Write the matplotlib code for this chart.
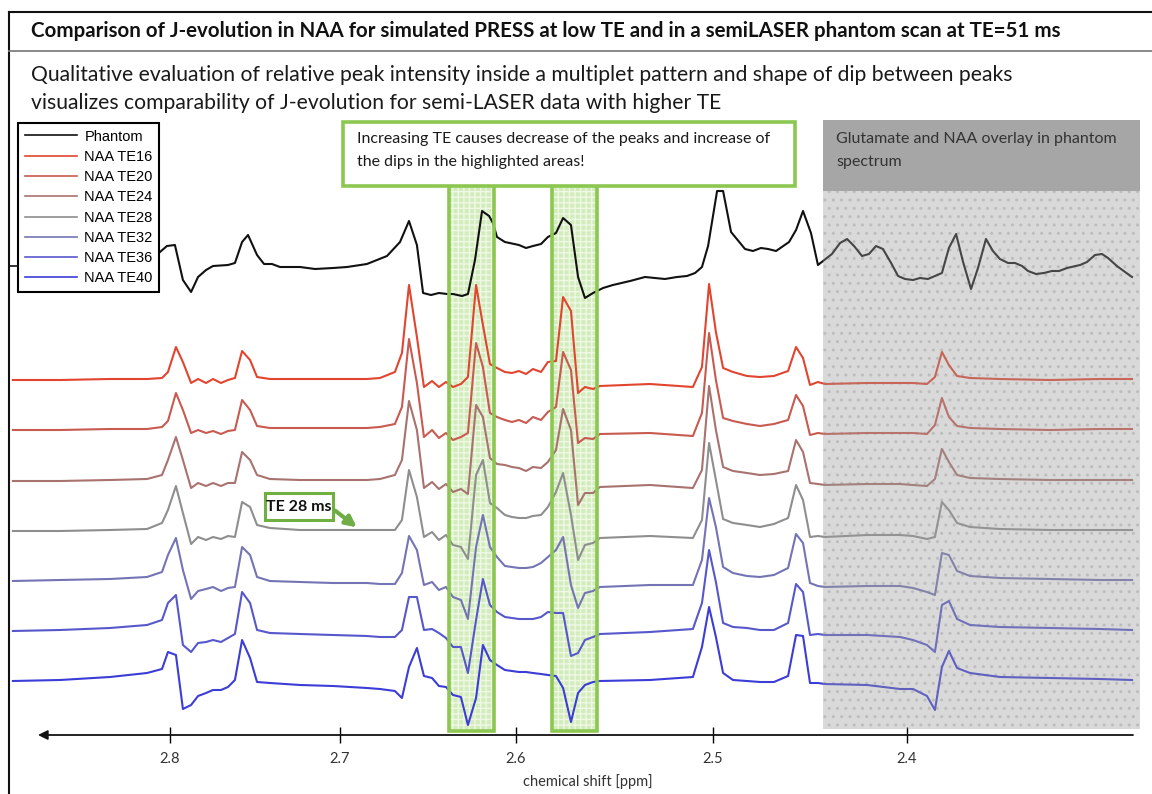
import numpy as np
import matplotlib
matplotlib.use("Agg")
import matplotlib.pyplot as plt
from matplotlib.patches import Rectangle, FancyArrowPatch
from matplotlib.lines import Line2D

# ---------------- data ----------------
series_labels = ["Phantom", "NAA TE16", "NAA TE20", "NAA TE24", "NAA TE28",
                 "NAA TE32", "NAA TE36", "NAA TE40"]
tick_values = [2.8, 2.7, 2.6, 2.5, 2.4]
tick_labels = ["2.8", "2.7", "2.6", "2.5", "2.4"]

ppm_phantom = [2.8059, 2.8018, 2.7971, 2.7924, 2.7876, 2.7835, 2.7788, 2.7747, 2.7659, 2.7618,
               2.7576, 2.7541, 2.7488, 2.7447, 2.7400, 2.7353, 2.7235, 2.7147, 2.7041, 2.6960,
               2.6847, 2.6733, 2.6659, 2.6608, 2.6563, 2.6528, 2.6483, 2.6438, 2.6392, 2.6358,
               2.6307, 2.6273, 2.6233, 2.6193, 2.6153, 2.6131, 2.6108, 2.6063, 2.5985, 2.5949,
               2.5914, 2.5873, 2.5838, 2.5797, 2.5761, 2.5721, 2.5685, 2.5650, 2.5609, 2.5558,
               2.5508, 2.5421, 2.5345, 2.5244, 2.5183, 2.5132, 2.5091, 2.5056, 2.5025, 2.4979,
               2.4948, 2.4907, 2.4835, 2.4794, 2.4753, 2.4716, 2.4675, 2.4608, 2.4572, 2.4536,
               2.4495, 2.4459, 2.4387, 2.4345, 2.4309, 2.4273, 2.4232, 2.4196, 2.4160, 2.4124,
               2.4082, 2.4046, 2.4010, 2.3969, 2.3933, 2.3892, 2.3856, 2.3820, 2.3784, 2.3747,
               2.3711, 2.3670, 2.3634, 2.3593, 2.3557, 2.3521, 2.3479, 2.3443, 2.3407, 2.3376,
               2.3335, 2.3294, 2.3253, 2.3216, 2.3175, 2.3108, 2.3072, 2.3031, 2.2995, 2.2964,
               2.2918, 2.2876, 2.2840]
phantom = [13, 19, 20, -15, -27, -12, -5, -1, 0, 2,
           23, 30, 10, 1, 1, -2, -2, -4, -3, -2,
           1, 9, 23, 44, 20, -28, -30, -28, -29, -29,
           -31, -29, 5, 54, 49, 42, 28, 23, 20, 17,
           19, 21, 28, 32, 47, 40, -12, -33, -28, -23,
           -20, -16, -12, -14, -12, -11, -8, -2, 19, 74,
           74, 33, 16, 14, 17, 16, 14, 23, 35, 54,
           32, 0, 11, 22, 26, 19, 9, 11, 19, 16,
           2, -11, -14, -15, -13, -14, -11, -8, 17, 31,
           3, -24, -3, 26, 14, 6, 2, 2, -1, -6,
           -9, -8, -6, -6, -3, 0, 3, 10, 11, 7,
           -1, -7, -12]

ppm_sim = [2.8924, 2.8647, 2.8353, 2.8135, 2.8047, 2.8012, 2.7965, 2.7924, 2.7876, 2.7835,
           2.7788, 2.7747, 2.7700, 2.7659, 2.7618, 2.7576, 2.7529, 2.7488, 2.7412, 2.7235,
           2.7041, 2.6847, 2.6773, 2.6688, 2.6648, 2.6608, 2.6563, 2.6523, 2.6477, 2.6438,
           2.6398, 2.6358, 2.6313, 2.6273, 2.6227, 2.6188, 2.6148, 2.6108, 2.6063, 2.6023,
           2.5985, 2.5949, 2.5914, 2.5873, 2.5838, 2.5797, 2.5761, 2.5721, 2.5685, 2.5650,
           2.5609, 2.5574, 2.5320, 2.5102, 2.5056, 2.5020, 2.4985, 2.4948, 2.4897, 2.4825,
           2.4758, 2.4686, 2.4613, 2.4572, 2.4536, 2.4500, 2.4459, 2.4423, 2.4206, 2.4036,
           2.3969, 2.3897, 2.3856, 2.3820, 2.3784, 2.3742, 2.3675, 2.3521, 2.3263, 2.3005,
           2.2840]

naa_te16 = [0, 0, 1, 1, 2, 8, 33, 18, -3, 1,
            -3, 1, -3, 0, 2, 29, 20, 3, 1, 1,
            1, 1, 2, 8, 27, 95, 43, -7, -1, -7,
            -2, -7, -4, 3, 95, 55, 16, 12, 8, 7,
            9, 6, 11, 8, 18, 19, 83, 69, -13, -7,
            -9, -6, -4, -7, 13, 96, 48, 12, 8, 4,
            3, 4, 9, 33, 22, -5, -2, -4, -3, -3,
            -3, -4, 3, 28, 15, 4, 2, 1, 0, 1,
            1]
naa_te20 = [0, 0, 1, 1, 3, 9, 37, 20, -3, 0,
            -3, -1, -4, -1, 0, 30, 20, 4, 2, 2,
            2, 2, 3, 6, 23, 91, 47, -7, 0, -8,
            -3, -10, -7, -3, 87, 63, 17, 13, 10, 8,
            10, 7, 13, 10, 18, 23, 78, 60, -13, -8,
            -9, -4, -3, -6, 17, 97, 50, 12, 9, 6,
            4, 6, 10, 35, 24, -5, -3, -4, -3, -3,
            -3, -4, 5, 32, 13, 4, 2, 1, 0, 1,
            1]
naa_te24 = [0, 0, 1, 2, 6, 21, 44, 21, -7, -2,
            -5, -2, -5, -2, -2, 29, 21, 6, 2, 1,
            1, 1, 2, 6, 21, 80, 51, -7, -1, -8,
            -3, -11, -8, -13, 76, 64, 23, 17, 16, 14,
            13, 10, 14, 13, 19, 31, 72, 51, -24, -12,
            -12, -6, -4, -7, 11, 95, 51, 14, 10, 8,
            6, 7, 10, 41, 29, -2, -3, -4, -3, -3,
            -4, -5, 2, 32, 19, 6, 3, 2, 1, 1,
            1]
naa_te28 = [0, 0, 1, 2, 8, 21, 45, 18, -13, -6,
            -9, -6, -8, -5, -6, 29, 24, 6, 3, 1,
            1, 1, 1, 1, 11, 61, 34, -6, -1, -9,
            -4, -14, -16, -28, 56, 71, 28, 23, 16, 14,
            13, 13, 15, 16, 24, 39, 58, 16, -29, -14,
            -12, -7, -5, -7, 11, 88, 51, 12, 8, 6,
            4, 7, 13, 46, 31, -6, -5, -6, -4, -4,
            -5, -8, -6, 29, 21, 8, 4, 2, 1, 1,
            1]
naa_te32 = [0, 1, 2, 4, 9, 26, 43, 11, -18, -10,
            -8, -6, -10, -7, -6, 34, 26, 4, 0, -1,
            -2, -2, -3, -3, 8, 45, 31, -4, -1, -9,
            -6, -16, -19, -38, 34, 66, 34, 24, 15, 14,
            13, 13, 14, 18, 24, 31, 44, -4, -27, -12,
            -10, -6, -4, -4, 21, 83, 54, 14, 8, 5,
            4, 6, 13, 47, 38, -2, -5, -6, -5, -5,
            -7, -11, -14, 28, 26, 10, 5, 3, 2, 1,
            1]
naa_te36 = [0, 1, 3, 6, 11, 28, 36, -14, -21, -12,
            -11, -9, -11, -7, -3, 39, 28, 1, -2, -3,
            -4, -5, -6, -6, 1, 34, 34, 1, 2, -2,
            -7, -16, -16, -42, 11, 52, 26, 19, 14, 13,
            12, 12, 12, 14, 19, 18, 18, -25, -22, -9,
            -6, -3, -1, 2, 28, 81, 49, 8, 4, 3,
            1, 1, 8, 47, 39, -4, -3, -4, -4, -6,
            -9, -14, -21, 26, 30, 12, 6, 4, 3, 2,
            1]
naa_te40 = [0, 1, 4, 8, 12, 29, 26, -28, -24, -15,
            -12, -9, -9, -6, 1, 41, 23, -1, -2, -4,
            -5, -7, -8, -10, -17, 14, 33, 5, 3, -5,
            -6, -14, -16, -44, -17, 36, 21, 16, 11, 10,
            9, 9, 8, 7, 6, 5, -7, -41, -12, -4,
            -1, 0, 1, 4, 34, 74, 44, 8, 1, 0,
            -1, -1, 5, 46, 45, -2, -2, -3, -4, -8,
            -8, -15, -29, 14, 30, 13, 8, 4, 3, 2,
            1]

# ---------------- style / layout ----------------
W, H = 1152, 794
colors = ["#111111", "#e2452f", "#c85a50", "#a8726e", "#8e8e8e",
          "#7474b4", "#5757cc", "#3c3cd6"]
offsets = [416, 301, 251, 200, 150, 100, 50, 0]
green = "#8cc751"

def fx(p):
    return p / W

def fy(p):
    return 1 - p / H

def frect(x0, y0, x1, y1):
    return (fx(x0), fy(y1)), fx(x1) - fx(x0), fy(y0) - fy(y1)

# calibration of the (slightly non-uniform) ppm axis of the original composite
cal_ppm = np.array([2.2, 2.3, 2.4, 2.5, 2.6, 2.7, 2.8, 2.9])
cal_px = np.array([1295, 1101, 907, 713, 516, 340, 170, 0], dtype=float)

def fwd(x):
    return np.interp(np.asarray(x, dtype=float), cal_ppm, -cal_px)

def inv(u):
    return np.interp(np.asarray(u, dtype=float), -cal_px, cal_ppm)

fig = plt.figure(figsize=(W / 100, H / 100), dpi=100)
ax = fig.add_axes([fx(10), fy(735), fx(1140) - fx(10), fy(120) - fy(735)])
ax.set_xscale("function", functions=(fwd, inv))
ax.set_xlim(float(inv(-10)), float(inv(-1140)))
ax.set_ylim(-54, 561)
for s in ax.spines.values():
    s.set_visible(False)
ax.set_yticks([])
ax.set_xticks(tick_values, tick_labels)
ax.tick_params(axis="x", direction="inout", length=11, width=1, pad=7,
               labelsize=10.5, labelcolor="#333333")
for lab in ax.get_xticklabels():
    lab.set_family("Lato")
tick_colors = ["#6a2a2a", "#6a2a2a", "#2a2a55", "#2a2a55", "#2a2a55"]
for t, c in zip(ax.xaxis.get_major_ticks(), tick_colors):
    t.tick1line.set_color(c)
ax.xaxis.set_minor_locator(matplotlib.ticker.NullLocator())

# highlighted columns (fill under the lines)
for x0, x1 in [(449, 494), (552, 597)]:
    xy, w, h = frect(x0, 184, x1, 731)
    ax.add_patch(Rectangle(xy, w, h, transform=fig.transFigure, facecolor="#d3ecbc",
                           edgecolor="none", zorder=0.2))
    ax.add_patch(Rectangle(xy, w, h, transform=fig.transFigure, facecolor="none",
                           edgecolor="#eef8e5", lw=0, hatch="+++", zorder=0.3))

# dotted texture of the gray region (under the lines)
xy, w, h = frect(823, 191, 1140, 729)
ax.add_patch(Rectangle(xy, w, h, transform=fig.transFigure, facecolor="none",
                       edgecolor="#d2d2d2", lw=0, hatch="..", zorder=0.3))

# spectra
ax.plot(ppm_phantom, np.array(phantom) + offsets[0], color=colors[0], lw=1.5,
        label=series_labels[0], zorder=2)
sims = [naa_te16, naa_te20, naa_te24, naa_te28, naa_te32, naa_te36, naa_te40]
for i, vals in enumerate(sims, start=1):
    ax.plot(ppm_sim, np.array(vals) + offsets[i], color=colors[i], lw=1.5,
            label=series_labels[i], zorder=2)

# x axis arrow
ax.annotate("", xy=((38 - 10) / 1130, 0), xytext=((1133 - 10) / 1130, 0),
            xycoords="axes fraction", textcoords="axes fraction",
            arrowprops=dict(arrowstyle="-|>", color="#111111", lw=1.3,
                            mutation_scale=14, shrinkA=0, shrinkB=0),
            annotation_clip=False)

leg = ax.legend(loc="upper left", bbox_to_anchor=(fx(18), fy(123)),
                bbox_transform=fig.transFigure, borderaxespad=0, fancybox=False,
                edgecolor="black", framealpha=1,
                prop={"family": "Liberation Sans", "size": 10.5},
                handlelength=3.6, labelspacing=0.43, borderpad=0.45,
                handletextpad=0.5)
leg.get_frame().set_linewidth(1.5)
for ln in leg.get_lines():
    ln.set_linewidth(1.2)
leg.set_zorder(10)

# gray overlay region
xy, w, h = frect(823, 191, 1140, 729)
fig.add_artist(Rectangle(xy, w, h, transform=fig.transFigure, facecolor="#9c9c9c",
                         alpha=0.38, edgecolor="none", zorder=5))
xy, w, h = frect(823, 120, 1140, 191)
fig.add_artist(Rectangle(xy, w, h, transform=fig.transFigure, facecolor="#a6a6a6",
                         edgecolor="none", zorder=5.2))
fig.text(fx(836), fy(139), "Glutamate and NAA overlay in phantom", family="Lato",
         fontsize=11.5, color="#333333", va="center", ha="left", zorder=6)
fig.text(fx(836), fy(162), "spectrum", family="Lato",
         fontsize=11.5, color="#333333", va="center", ha="left", zorder=6)

# green column borders
for x0, x1 in [(449, 494), (552, 597)]:
    xy, w, h = frect(x0, 184, x1, 731)
    fig.add_artist(Rectangle(xy, w, h, transform=fig.transFigure, facecolor="none",
                             edgecolor=green, lw=2.6, zorder=6))

# green text box
xy, w, h = frect(343, 122, 795, 186)
fig.add_artist(Rectangle(xy, w, h, transform=fig.transFigure, facecolor="white",
                         edgecolor=green, lw=2.6, zorder=7))
fig.text(fx(357), fy(139), "Increasing TE causes decrease of the peaks and increase of",
         family="Lato", fontsize=11.5, color="#1a1a1a", va="center", ha="left", zorder=8)
fig.text(fx(357), fy(162), "the dips in the highlighted areas!",
         family="Lato", fontsize=11.5, color="#1a1a1a", va="center", ha="left", zorder=8)

# TE 28 ms callout
xy, w, h = frect(265, 493, 333, 520)
fig.add_artist(Rectangle(xy, w, h, transform=fig.transFigure, facecolor="white",
                         edgecolor="#6fb040", lw=2.2, zorder=7))
fig.text(fx(299), fy(507), "TE 28 ms", family="Lato", fontweight="bold", fontsize=11.5,
         color="#111111", va="center", ha="center", zorder=8)
fig.add_artist(FancyArrowPatch((fx(333), fy(509)), (fx(359), fy(529)),
                               transform=fig.transFigure, arrowstyle="-|>",
                               mutation_scale=16, lw=3, color="#70ad47", zorder=7))

# frame and headings
fig.add_artist(Line2D([fx(9), fx(1152)], [fy(11.7), fy(11.7)], color="#111111", lw=1.5))
fig.add_artist(Line2D([fx(9), fx(9)], [fy(11.7), fy(794)], color="#111111", lw=1.5))
fig.add_artist(Line2D([fx(9), fx(1152)], [fy(50.7), fy(50.7)], color="#7f7f7f", lw=1.3))
fig.add_artist(Line2D([fx(10), fx(18)], [fy(266), fy(266)], color="#111111", lw=1.2))

fig.text(fx(31), fy(31), "Comparison of J-evolution in NAA for simulated PRESS at low TE "
         "and in a semiLASER phantom scan at TE=51 ms", family="Lato", fontweight="bold",
         fontsize=14.75, color="#111111", va="center", ha="left")
fig.text(fx(31), fy(75), "Qualitative evaluation of relative peak intensity inside a "
         "multiplet pattern and shape of dip between peaks", family="Lato",
         fontsize=15.2, color="#1a1a1a", va="center", ha="left")
fig.text(fx(31), fy(103), "visualizes comparability of J-evolution for semi-LASER data "
         "with higher TE", family="Lato", fontsize=15.2, color="#1a1a1a",
         va="center", ha="left")
fig.text(fx(588), fy(782), "chemical shift [ppm]", family="Lato", fontsize=10.5,
         color="#333333", va="center", ha="center")

fig.savefig("out.png", dpi=100)
